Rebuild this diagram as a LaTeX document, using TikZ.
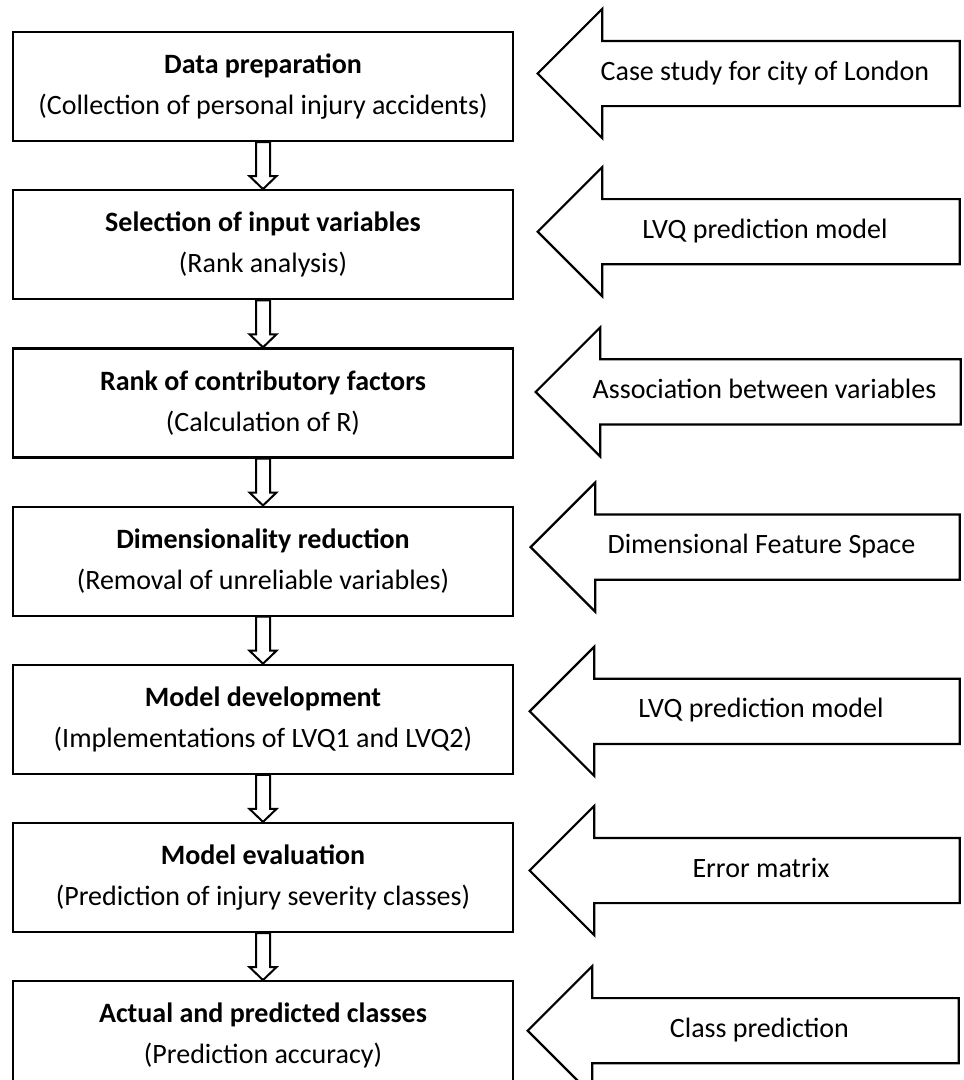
\documentclass[tikz,border=0pt]{standalone}
\usepackage{fontspec}
\setmainfont{Carlito}
\usepackage{tikz}
\usetikzlibrary{shapes.arrows, positioning, calc}
\tikzset{
  stagebox/.style={rectangle, draw=black, fill=white, line width=2.2pt,
    minimum width=500pt, minimum height=109pt, align=center,
    font=\fontsize{28}{41}\selectfont},
  sidearrow/.style={single arrow, shape border rotate=180, draw=black, fill=white,
    line width=2.2pt, minimum height=422pt, minimum width=127pt,
    single arrow head extend=32pt, single arrow tip angle=90,
    text height=20pt, text depth=7pt, inner ysep=18pt, inner xsep=0pt,
    font=\fontsize{28}{34}\selectfont},
  downarrow/.style={draw=black, fill=white, line width=2pt,
    to path={($(\tikztostart)+(-7,0)$) -- ($(\tikztotarget)+(-7,-13)$)
      -- ($(\tikztotarget)+(-13.5,-13)$) -- (\tikztotarget)
      -- ($(\tikztotarget)+(13.5,-13)$) -- ($(\tikztotarget)+(7,-13)$)
      -- ($(\tikztostart)+(7,0)$) -- cycle}}
}

\begin{document}
\begin{tikzpicture}[x=1pt, y=-1pt, node distance=47pt]
  \useasboundingbox (0,0) rectangle (964,1080);

  % Stages
  \node[stagebox] (prep) at (263,86.5) {\textbf{Data preparation}\\(Collection of personal injury accidents)};
  \node[stagebox, below=of prep] (select) {\textbf{Selection of input variables}\\(Rank analysis)};
  \node[stagebox, below=of select] (rank) {\textbf{Rank of contributory factors}\\(Calculation of R)};
  \node[stagebox, below=of rank] (dimred) {\textbf{Dimensionality reduction}\\(Removal of unreliable variables)};
  \node[stagebox, below=of dimred] (devel) {\textbf{Model development}\\(Implementations of LVQ1 and LVQ2)};
  \node[stagebox, below=of devel] (eval) {\textbf{Model evaluation}\\(Prediction of injury severity classes)};
  \node[stagebox, below=of eval] (classes) {\textbf{Actual and predicted classes}\\(Prediction accuracy)};

  % Flow between stages
  \draw[downarrow] (prep.south) to (select.north);
  \draw[downarrow] (select.south) to (rank.north);
  \draw[downarrow] (rank.south) to (dimred.north);
  \draw[downarrow] (dimred.south) to (devel.north);
  \draw[downarrow] (devel.south) to (eval.north);
  \draw[downarrow] (eval.south) to (classes.north);

  % Inputs
  \node[sidearrow, anchor=tip] (london) at ($(prep.east)+(22,-13)$) {Case study for city of London};
  \node[sidearrow, anchor=tip] (lvqa) at ($(select.east)+(22,-13)$) {LVQ prediction model};
  \node[sidearrow, anchor=tip, minimum height=425pt] (assoc) at ($(rank.east)+(20,-11)$) {Association between variables};
  \node[sidearrow, anchor=tip, minimum height=429pt] (feat) at ($(dimred.east)+(15,-14)$) {Dimensional Feature Space};
  \node[sidearrow, anchor=tip, minimum height=430pt] (lvqb) at ($(devel.east)+(14,-8)$) {LVQ prediction model};
  \node[sidearrow, anchor=tip, minimum height=430pt] (errmat) at ($(eval.east)+(14,-7)$) {Error matrix};
  \node[sidearrow, anchor=tip, minimum height=431pt] (clspred) at ($(classes.east)+(12,-5)$) {Class prediction};
\end{tikzpicture}
\end{document}
